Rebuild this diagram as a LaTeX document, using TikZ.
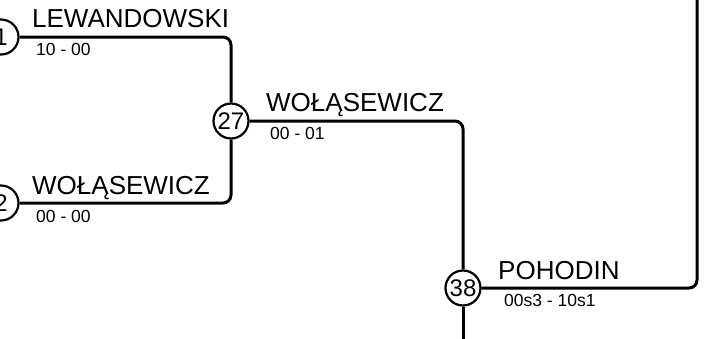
\documentclass[tikz,border=0pt]{standalone}
\usepackage{fontspec}
\setmainfont{Liberation Sans}
\usetikzlibrary{positioning,calc}

\begin{document}
\begin{tikzpicture}[x=1pt, y=-1pt,
        matchnode/.style={circle, draw=black, line width=2.2pt, fill=white, minimum size=35pt, inner sep=0pt, font=\fontsize{24}{24}\selectfont},
        winner/.style={anchor=base west, inner sep=0pt, font=\fontsize{26}{26}\selectfont},
        score/.style={anchor=north west, inner sep=0pt, font=\fontsize{17.5}{17.5}\selectfont},
        bracket/.style={draw=black, line width=3pt, rounded corners=8pt}
    ]

    \useasboundingbox (0,0) rectangle (715,338);

    \def\namex{35} % name offset
    \def\scorex{39} % score offset

    % Match circles
    \node[matchnode] (m1) at (1,37) {1};
    \node[matchnode] (m2) at (1,203) {2};
    \node[matchnode] (m27) at (231,121) {27};
    \node[matchnode] (m38) at (463,288) {38};

    % Loose ends
    \coordinate (up) at (697,-10);
    \coordinate (down) at (463,350);

    % Bracket lines
    \draw[bracket] (m1) -| (m27);
    \draw[bracket] (m2) -| (m27);
    \draw[bracket] (m27) -| (m38);
    \draw[bracket] (m38) -| (up);
    \draw[bracket] (m38) -- (down);

    % Winners
    \node[winner] (w1) at ($(m1)+(\namex-4,-10)$) {LEWANDOWSKI};
    \node[winner] (w2) at ($(m2)+(\namex-4,-9)$) {WOŁĄSEWICZ};
    \node[winner] (w27) at ($(m27)+(\namex,-10)$) {WOŁĄSEWICZ};
    \node[winner] (w38) at ($(m38)+(\namex,-9)$) {POHODIN};

    % Scores
    \node[score] (s1) at ($(m1)+(\scorex-4,6)$) {10 - 00};
    \node[score] (s2) at ($(m2)+(\scorex-4,7)$) {00 - 00};
    \node[score] (s27) at ($(m27)+(\scorex,6)$) {00 - 01};
    \node[score] (s38) at ($(m38)+(\scorex+2,6)$) {00s3 - 10s1};

\end{tikzpicture}
\end{document}
